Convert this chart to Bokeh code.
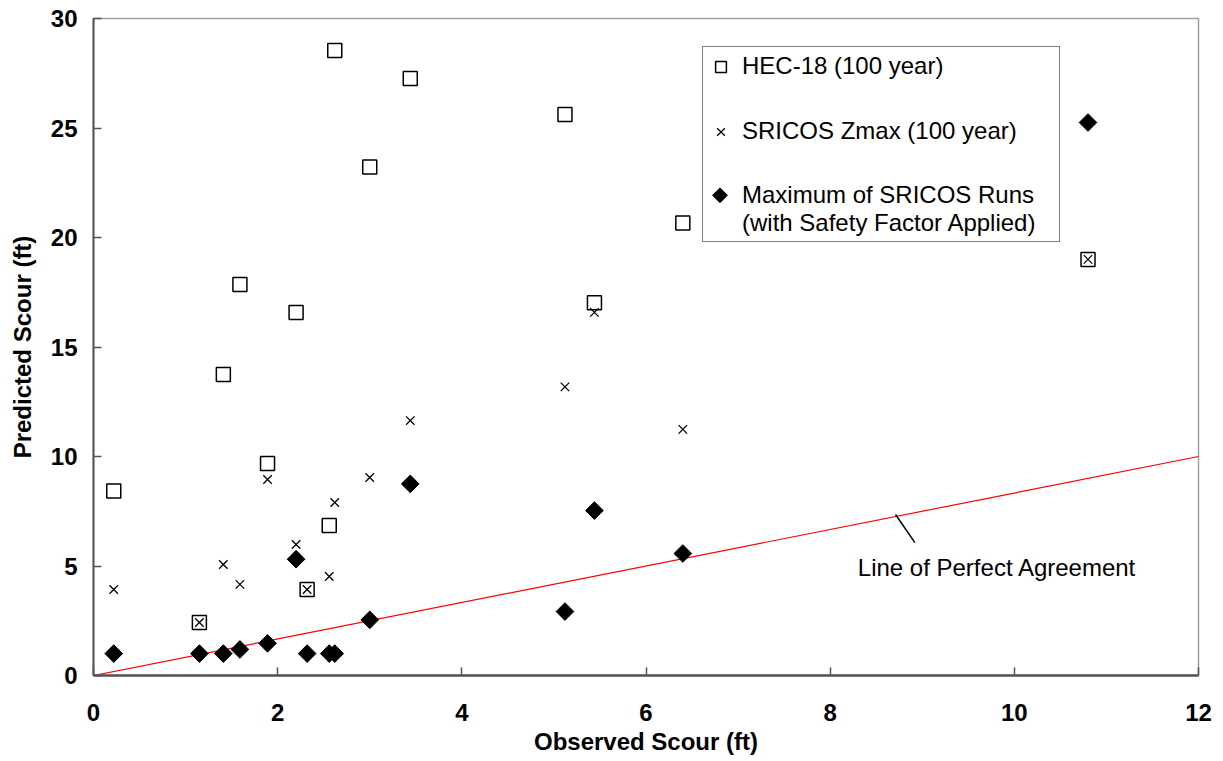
from bokeh.plotting import figure
from bokeh.models import Range1d, FixedTicker, Legend, LegendItem, Label
from bokeh.embed import file_html
from bokeh.resources import INLINE
import numpy as np

# ---- data ----
observed = [0.22, 1.15, 1.41, 1.59, 1.89, 2.20, 2.32, 2.56, 2.62, 3.00, 3.44, 5.12, 5.44, 6.40, 10.80]
hec18 = [8.43, 2.42, 13.74, 17.85, 9.68, 16.57, 3.93, 6.85, 28.54, 23.22, 27.26, 25.62, 17.02, 20.66, 19.00]
sricos_zmax = [3.93, 2.42, 5.07, 4.16, 8.95, 5.98, 3.93, 4.52, 7.90, 9.04, 11.64, 13.18, 16.58, 11.24, 19.00]
max_sricos_sf = [1.00, 1.00, 1.00, 1.19, 1.47, 5.31, 1.00, 1.00, 1.00, 2.54, 8.75, 2.92, 7.53, 5.57, 25.25]

agreement_x = [0, 12]
agreement_y = [0, 10]

x_ticks = [0, 2, 4, 6, 8, 10, 12]
y_ticks = [0, 5, 10, 15, 20, 25, 30]

series_labels = ["HEC-18 (100 year)", "SRICOS Zmax (100 year)",
                 "Maximum of SRICOS Runs\n(with Safety Factor Applied)"]
annotation_text = "Line of Perfect Agreement"
annotation_pos = (8.30, 4.93)
leader = (8.71, 7.35, 8.92, 6.07)

FONT = "Liberation Sans"
X_MIN, X_MAX, Y_MIN, Y_MAX = 0, 12, 0, 30

# layout (pixels)
W, H = 1223, 761
B_LEFT, B_RIGHT, B_TOP, B_BOTTOM = 93, 25, 18, 86
FRAME_W = W - B_LEFT - B_RIGHT
FRAME_H = H - B_TOP - B_BOTTOM
LEG_X, LEG_Y = 609, 433          # legend lower-left corner, px from frame lower-left
LEG_PAD, LEG_GLYPH, LEG_FONT_PX, LEG_LINE_H = 4, 27, 24, 1.2

p = figure(width=W, height=H, output_backend="svg", toolbar_location=None,
           x_range=Range1d(X_MIN, X_MAX), y_range=Range1d(Y_MIN, Y_MAX),
           min_border_left=B_LEFT, min_border_right=B_RIGHT,
           min_border_top=B_TOP, min_border_bottom=B_BOTTOM)
p.xgrid.visible = False
p.ygrid.visible = False
p.outline_line_color = "#a0a0a0"
p.outline_line_width = 1.5
p.background_fill_color = "white"
p.border_fill_color = "white"

for ax in (p.xaxis[0], p.yaxis[0]):
    ax.axis_line_color = "#555555"
    ax.major_tick_line_color = "#555555"
    ax.major_tick_in = 8
    ax.major_tick_out = 0
    ax.minor_tick_line_color = None
    ax.major_label_text_font = FONT
    ax.major_label_text_font_style = "bold"
    ax.major_label_text_font_size = "24px"
    ax.major_label_text_color = "black"
    ax.axis_label_text_font = FONT
    ax.axis_label_text_font_style = "bold"
    ax.axis_label_text_font_size = "24px"
    ax.axis_label_text_color = "black"

p.xaxis[0].axis_line_width = 2.5
p.xaxis[0].major_tick_line_width = 1.5
p.yaxis[0].axis_line_width = 2
p.yaxis[0].major_tick_line_width = 1.5
p.xaxis.ticker = FixedTicker(ticks=x_ticks)
p.yaxis.ticker = FixedTicker(ticks=y_ticks)
p.xaxis.axis_label = "Observed Scour (ft)"
p.yaxis.axis_label = "Predicted Scour (ft)"
p.xaxis.major_label_standoff = 28
p.xaxis.axis_label_standoff = 4
p.yaxis.major_label_standoff = 16
p.yaxis.axis_label_standoff = 12

# line of perfect agreement
p.line(agreement_x, agreement_y, line_color="red", line_width=1.2)
p.segment(x0=[leader[0]], y0=[leader[1]], x1=[leader[2]], y1=[leader[3]],
          line_color="black", line_width=1.5)

r_hec = p.scatter(observed, hec18, marker="square", size=14, fill_color="white",
                  line_color="black", line_width=1.5)
r_sri = p.scatter(observed, sricos_zmax, marker="x", size=12, line_color="black", line_width=1.3)
r_max = p.scatter(observed, max_sricos_sf, marker="square", angle=np.pi / 4, size=12.5,
                  fill_color="black", line_color="black", line_width=1)

# legend key for the diamond series: the legend swatch ignores marker rotation,
# so the swatch is left blank and a rotated key is drawn at the swatch position
r_max_blank = p.scatter(observed, max_sricos_sf, marker="square", size=1,
                        fill_alpha=0, line_alpha=0)
key_px_x = LEG_X + LEG_PAD + LEG_GLYPH / 2
key_px_y = LEG_Y + LEG_PAD + LEG_FONT_PX * LEG_LINE_H * 1.5
key_x = X_MIN + key_px_x / FRAME_W * (X_MAX - X_MIN)
key_y = Y_MIN + key_px_y / FRAME_H * (Y_MAX - Y_MIN)
p.scatter([key_x], [key_y], marker="square", angle=np.pi / 4, size=10.5,
          fill_color="black", line_color="black", line_width=1)

p.add_layout(Label(x=annotation_pos[0], y=annotation_pos[1], text=annotation_text,
                   text_font=FONT, text_font_size="24px", text_color="black",
                   text_baseline="middle", text_align="left"))

legend = Legend(items=[LegendItem(label=series_labels[0], renderers=[r_hec]),
                       LegendItem(label=series_labels[1], renderers=[r_sri]),
                       LegendItem(label=series_labels[2], renderers=[r_max_blank])],
                location=(LEG_X, LEG_Y))
legend.label_text_font = FONT
legend.label_text_font_size = f"{LEG_FONT_PX}px"
legend.label_text_color = "black"
legend.glyph_width = LEG_GLYPH
legend.glyph_height = LEG_GLYPH
legend.label_height = 30
legend.label_width = 313
legend.label_standoff = 8
legend.spacing = 35
legend.padding = LEG_PAD
legend.margin = 0
legend.border_line_color = "black"
legend.border_line_width = 1
legend.background_fill_alpha = 0
p.add_layout(legend)

open("out.html", "w").write(file_html(p, INLINE))
